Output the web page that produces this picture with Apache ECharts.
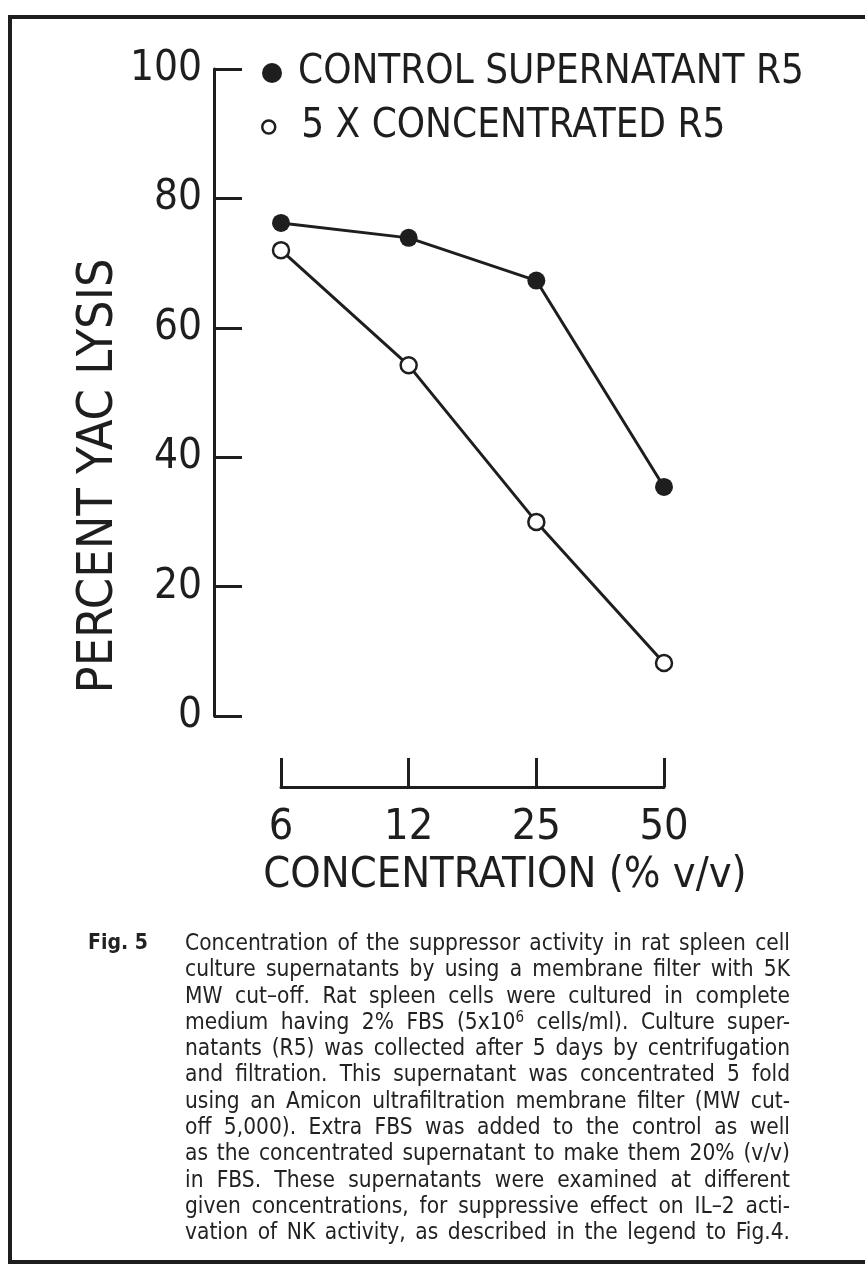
<!DOCTYPE html>
<html>
<head>
<meta charset="UTF-8">
<title>Fig. 5</title>
<script src="https://cdn.jsdelivr.net/npm/echarts@6/dist/echarts.min.js"></script>
<style>
    html, body { margin: 0; padding: 0; background: #fff; }
    #page { position: relative; width: 865px; height: 1274px; overflow: hidden; }
    #chart { position: absolute; left: 0; top: 0; width: 865px; height: 1274px; }
    #figno, #caption {
        position: absolute; top: 929px; color: #222;
        font-family: "DejaVu Sans Condensed", "DejaVu Sans", sans-serif;
        font-stretch: condensed; font-size: 22.5px; line-height: 26.3px;
    }
    #figno { left: 88px; font-weight: bold; font-size: 21px; }
    #caption { left: 185px; width: 605px; }
    #caption div { text-align: justify; text-align-last: justify; white-space: nowrap; }
    #caption sup { font-size: 15px; vertical-align: 7px; line-height: 0; }
</style>
</head>
<body>
<div id="page">
    <div id="chart"></div>
    <div id="figno">Fig. 5</div>
    <div id="caption"></div>
</div>
<script>
    // data
    var categories = ['6', '12', '25', '50'];
    var controlR5 = [76.2, 73.9, 67.3, 35.4];
    var concentratedR5 = [72.0, 54.2, 30.0, 8.2];
    var yTicks = [0, 20, 40, 60, 80, 100];
    var seriesNames = ['CONTROL SUPERNATANT R5', '5 X CONCENTRATED R5'];
    var captionLines = [
        'Concentration of the suppressor activity in rat spleen cell',
        'culture supernatants by using a membrane filter with 5K',
        'MW cut\u2013off.  Rat spleen cells were cultured in complete',
        'medium having 2% FBS (5x10<sup>6</sup> cells/ml).  Culture super-',
        'natants (R5) was collected after 5 days by centrifugation',
        'and filtration.  This supernatant was concentrated 5 fold',
        'using an Amicon ultrafiltration membrane filter (MW cut-',
        'off 5,000). Extra FBS was added to the control as well',
        'as the concentrated supernatant to make them 20% (v/v)',
        'in FBS.  These supernatants were examined at different',
        'given concentrations, for suppressive effect on IL\u20132 acti-',
        'vation of NK activity, as described in the legend to Fig.4.'
    ];

    var ink = '#1e1e1e';
    var cond = '"DejaVu Sans Condensed", "Liberation Sans", sans-serif';

    document.getElementById('caption').innerHTML = captionLines.map(function (l) {
        return '<div>' + l + '</div>';
    }).join('');

    var myChart = echarts.init(document.getElementById('chart'));
    myChart.setOption({
        animation: false,
        backgroundColor: '#fff',
        grid: {
            left: 281,
            right: 201,
            top: 69,
            bottom: 558,
            containLabel: false
        },
        legend: [{
            data: [{name: seriesNames[0], icon: 'circle', itemStyle: {color: ink, borderWidth: 0}}],
            left: 262,
            top: 53,
            padding: 0,
            itemWidth: 20,
            itemHeight: 20,
            textStyle: {fontFamily: cond, fontSize: 40, color: ink, padding: [0, 0, 0, 11]}
        }, {
            data: [{
                name: seriesNames[1], icon: 'circle',
                itemStyle: {color: '#fff', borderColor: ink, borderWidth: 2.5}
            }],
            left: 261,
            top: 107,
            padding: 0,
            itemWidth: 13,
            itemHeight: 13,
            textStyle: {fontFamily: cond, fontSize: 40, color: ink, padding: [0, 0, 0, 21]}
        }],
        xAxis: {
            type: 'category',
            data: categories,
            boundaryGap: false,
            offset: 71,
            name: 'CONCENTRATION (% v/v)',
            nameLocation: 'middle',
            nameGap: 66,
            nameTextStyle: {fontFamily: cond, fontSize: 43, color: ink, padding: [0, 0, 0, 65]},
            axisLine: {onZero: false, lineStyle: {color: ink, width: 3}},
            axisTick: {inside: true, length: 29, lineStyle: {color: ink, width: 3}},
            axisLabel: {margin: 19, fontFamily: cond, fontSize: 43, color: ink},
            splitLine: {show: false}
        },
        yAxis: {
            type: 'value',
            min: yTicks[0],
            max: yTicks[yTicks.length - 1],
            interval: yTicks[1] - yTicks[0],
            position: 'left',
            offset: 67,
            name: 'PERCENT YAC LYSIS',
            nameLocation: 'middle',
            nameRotate: 90,
            nameGap: 90,
            nameTextStyle: {fontFamily: cond, fontSize: 50, color: ink, padding: [0, 167, 0, 0]},
            axisLine: {show: true, lineStyle: {color: ink, width: 3}},
            axisTick: {show: true, inside: true, length: 28, lineStyle: {color: ink, width: 3}},
            axisLabel: {margin: 12, fontFamily: cond, fontSize: 42, color: ink},
            splitLine: {show: false}
        },
        graphic: [{
            type: 'rect',
            z: -10,
            shape: {x: 10, y: 17, width: 900, height: 1245},
            style: {fill: 'none', stroke: ink, lineWidth: 4}
        }],
        series: [{
            name: seriesNames[0],
            type: 'line',
            data: controlR5,
            symbol: 'circle',
            symbolSize: 18,
            lineStyle: {color: ink, width: 3},
            itemStyle: {color: ink, borderColor: ink, borderWidth: 0},
            silent: true
        }, {
            name: seriesNames[1],
            type: 'line',
            data: concentratedR5,
            symbol: 'circle',
            symbolSize: 16,
            lineStyle: {color: ink, width: 3},
            itemStyle: {color: '#fff', borderColor: ink, borderWidth: 2.5},
            silent: true
        }]
    });
</script>
</body>
</html>
